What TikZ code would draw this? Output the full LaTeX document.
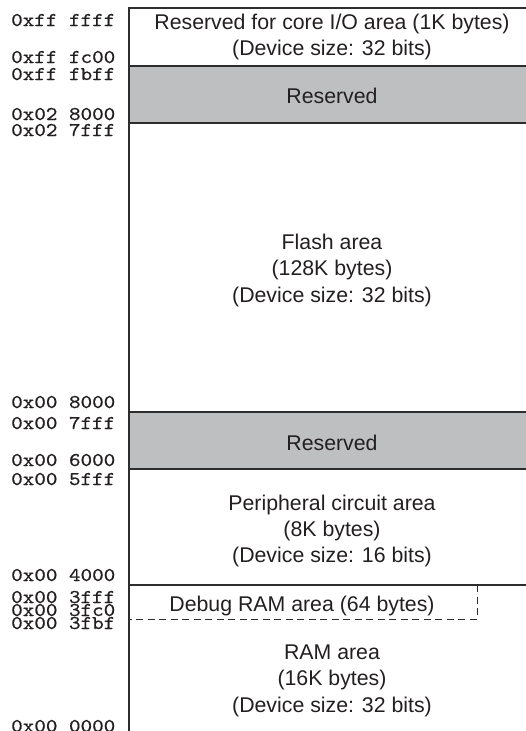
\documentclass[tikz,border=0pt]{standalone}
\usepackage{fontspec}
\setmainfont{Liberation Sans}
\newfontfamily\addrfont[FakeStretch=1.13,FakeBold=0.6]{lmmono10-regular.otf}
\definecolor{regiongray}{RGB}{190,191,193}
\definecolor{linecol}{RGB}{45,45,45}
\definecolor{txtcol}{RGB}{35,31,32}
\begin{document}
\begin{tikzpicture}[x=1pt,y=-1pt,
  addr/.style={anchor=base west,inner sep=0pt,text=txtcol,font=\fontsize{19.5}{20}\selectfont\addrfont},
  lab/.style={anchor=base,inner sep=0pt,text=txtcol,font=\fontsize{21.3}{26}\selectfont},
  bound/.style={draw=linecol,line width=1.1pt},
  dashbound/.style={draw=linecol,line width=0.9pt,dash pattern=on 7pt off 4.5pt}]
\useasboundingbox (0,0) rectangle (526,731);
% grey regions
\fill[regiongray] (129,66) rectangle (526,123);
\fill[regiongray] (129,412) rectangle (526,469);
% boundaries
\draw[bound] (526,8) -- (129,8) -- (129,731);
\draw[bound] (129,66) -- (526,66);
\draw[bound] (129,123) -- (526,123);
\draw[bound] (129,412) -- (526,412);
\draw[bound] (129,469) -- (526,469);
\draw[bound] (129,585) -- (526,585);
\coordinate (dbgtr) at (477,585);
\coordinate (dbgbr) at (477,619);
\coordinate (dbgbl) at (129,619);
\draw[dashbound] (dbgtr) -- (dbgbr) -- (dbgbl);
% addresses
\node[addr] (a1) at (11,26) {0xff ffff};
\node[addr] (a2) at (11,63) {0xff fc00};
\node[addr] (a3) at (11,80) {0xff fbff};
\node[addr] (a4) at (11,120) {0x02 8000};
\node[addr] (a5) at (11,136) {0x02 7fff};
\node[addr] (a6) at (11,408) {0x00 8000};
\node[addr] (a7) at (11,429) {0x00 7fff};
\node[addr] (a8) at (11,466) {0x00 6000};
\node[addr] (a9) at (11,485) {0x00 5fff};
\node[addr] (a10) at (11,581) {0x00 4000};
\node[addr] (a11) at (11,603) {0x00 3fff};
\node[addr] (a12) at (11,616) {0x00 3fc0};
\node[addr] (a13) at (11,629) {0x00 3fbf};
\node[addr] (a14) at (11,732) {0x00 0000};
% labels
\node[lab] (top1) at (332,29) {Reserved for core I/O area (1K bytes)};
\node[lab] (top2) at (332,55) {(Device size: 32 bits)};
\node[lab] (res1) at (332,103) {Reserved};
\node[lab] (fl1) at (332,249) {Flash area};
\node[lab] (fl2) at (332,275) {(128K bytes)};
\node[lab] (fl3) at (332,302) {(Device size: 32 bits)};
\node[lab] (res2) at (332,450) {Reserved};
\node[lab] (pe1) at (332,510) {Peripheral circuit area};
\node[lab] (pe2) at (332,536) {(8K bytes)};
\node[lab] (pe3) at (332,562) {(Device size: 16 bits)};
\node[lab] (dbg) at (302,611) {Debug RAM area (64 bytes)};
\node[lab] (ram1) at (332,659) {RAM area};
\node[lab] (ram2) at (332,685) {(16K bytes)};
\node[lab] (ram3) at (332,712) {(Device size: 32 bits)};
\end{tikzpicture}
\end{document}
